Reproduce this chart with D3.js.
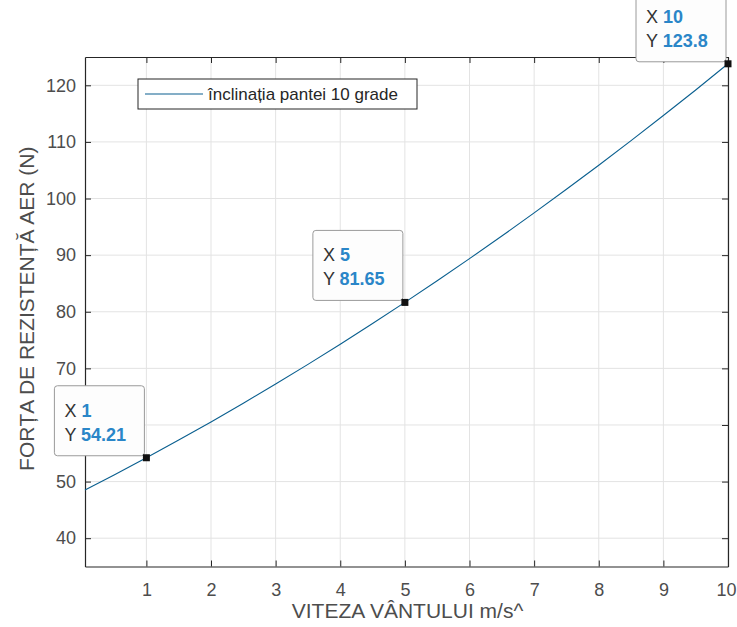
<!DOCTYPE html>
<html><head><meta charset="utf-8">
<script src="https://cdn.jsdelivr.net/npm/d3@7"></script>
<style>
html,body{margin:0;padding:0;background:#fff;}
svg{display:block;font-family:"Liberation Sans",Arial,Helvetica,sans-serif;}
</style></head>
<body>
<div id="chart"></div>
<script>
// Data
const speeds = [0.05, 0.5, 1, 1.5, 2, 2.5, 3, 3.5, 4, 4.5, 5, 5.5, 6, 6.5, 7, 7.5, 8, 8.5, 9, 9.5, 10];
const forces = [48.51, 51.17, 54.21, 57.33, 60.54, 63.84, 67.23, 70.70, 74.26, 77.91, 81.65, 85.47, 89.38, 93.37, 97.46, 101.63, 105.88, 110.23, 114.67, 119.18, 123.8];
const xTicks = [1, 2, 3, 4, 5, 6, 7, 8, 9, 10];
const yTicks = [40, 50, 60, 70, 80, 90, 100, 110, 120];
const yTicksHidden = [60]; // covered by the data tip in the reference
const tipX = [1, 5, 10];
const tipY = ["54.21", "81.65", "123.8"];
const legendLabel = "înclinația pantei 10 grade";
const xLabel = "VITEZA VÂNTULUI m/s^";
const yLabel = "FORȚA DE REZISTENȚĂ AER (N)";

const W = 737, H = 627;
const L = 85, R = 728, T = 57, B = 566.5;

const svg = d3.select("#chart").append("svg").attr("width", W).attr("height", H);

const x = d3.scaleLinear().domain([0.05, 10]).range([L, R]);
const y = d3.scaleLinear().domain([35, 125]).range([B, T]);

const axisColor = "#262626";
const gridColor = "#e3e3e3";
const lineColor = "#0a5f8f";

// grid
const g = svg.append("g");
g.selectAll(".gx").data(xTicks).join("line")
  .attr("x1", d => x(d)).attr("x2", d => x(d)).attr("y1", T).attr("y2", B)
  .attr("stroke", gridColor).attr("stroke-width", 1);
g.selectAll(".gy").data(yTicks).join("line")
  .attr("x1", L).attr("x2", R).attr("y1", d => y(d)).attr("y2", d => y(d))
  .attr("stroke", gridColor).attr("stroke-width", 1);

// axes via d3 axes (ticks inward)
const fs = 18;
const ax = svg.append("g").attr("transform", `translate(0,${B})`)
  .call(d3.axisBottom(x).tickValues(xTicks).tickSize(-6).tickPadding(17).tickSizeOuter(0));
const ay = svg.append("g").attr("transform", `translate(${L},0)`)
  .call(d3.axisLeft(y).tickValues(yTicks).tickSize(-6).tickPadding(9).tickSizeOuter(0)
    .tickFormat(d => yTicksHidden.includes(d) ? "" : d));
const axTop = svg.append("g").attr("transform", `translate(0,${T})`)
  .call(d3.axisTop(x).tickValues(xTicks).tickSize(-6).tickFormat("").tickSizeOuter(0));
const ayR = svg.append("g").attr("transform", `translate(${R},0)`)
  .call(d3.axisRight(y).tickValues(yTicks).tickSize(-6).tickFormat("").tickSizeOuter(0));
[ax, ay, axTop, ayR].forEach(a => {
  a.select(".domain").attr("stroke", axisColor).attr("stroke-width", 1.2);
  a.selectAll(".tick line").attr("stroke", axisColor);
  a.selectAll(".tick text").attr("fill", "#4d4d4d").style("font-size", fs + "px")
    .style("font-family", '"Liberation Sans",Arial,sans-serif');
});
// keep the last x label inside the window
ax.selectAll(".tick text").filter(d => d === xTicks[xTicks.length - 1])
  .attr("text-anchor", "end").attr("x", W - 1 - R);

// line
svg.append("path")
  .datum(speeds.map((s, i) => [s, forces[i]]))
  .attr("fill", "none").attr("stroke", lineColor).attr("stroke-width", 1.1)
  .attr("d", d3.line().x(d => x(d[0])).y(d => y(d[1])));

// legend
const lg = svg.append("g");
lg.append("rect").attr("x", 138).attr("y", 79).attr("width", 279).attr("height", 30)
  .attr("fill", "#fff").attr("stroke", axisColor).attr("stroke-width", 1);
lg.append("line").attr("x1", 145).attr("x2", 203).attr("y1", 94).attr("y2", 94)
  .attr("stroke", lineColor).attr("stroke-width", 1.1);
lg.append("text").attr("x", 208).attr("y", 100).text(legendLabel)
  .attr("fill", "#262626").style("font-size", "17px");

// axis labels
svg.append("text").attr("x", (L + R) / 2 + 1).attr("y", 618).attr("text-anchor", "middle")
  .attr("fill", "#4d4d4d").style("font-size", "21px").text(xLabel);
svg.append("text").attr("transform", `translate(34,${(T + B) / 2 - 3}) rotate(-90)`)
  .attr("text-anchor", "middle").attr("fill", "#4d4d4d").style("font-size", "21px").text(yLabel);

// data tips
const tw = 90, th = 70;
tipX.forEach((tx, i) => {
  const ty = +tipY[i];
  const mx = x(tx), my = y(ty);
  const bx = mx - 2 - tw, by = my - 2 - th;
  const tg = svg.append("g");
  tg.append("rect").attr("x", bx).attr("y", by).attr("width", tw).attr("height", th)
    .attr("rx", 3).attr("fill", "#fdfdfd").attr("stroke", "#9a9a9a").attr("stroke-width", 1);
  const t1 = tg.append("text").attr("x", bx + 10).attr("y", by + 31).style("font-size", "18px");
  t1.append("tspan").attr("fill", "#333").text("X ");
  t1.append("tspan").attr("fill", "#2a86c8").attr("font-weight", "bold").text(tx);
  const t2 = tg.append("text").attr("x", bx + 10).attr("y", by + 55).style("font-size", "18px");
  t2.append("tspan").attr("fill", "#333").text("Y ");
  t2.append("tspan").attr("fill", "#2a86c8").attr("font-weight", "bold").text(tipY[i]);
  tg.append("rect").attr("x", mx - 3.5).attr("y", my - 3.5).attr("width", 7).attr("height", 7)
    .attr("fill", "#111");
});
</script>
</body></html>
